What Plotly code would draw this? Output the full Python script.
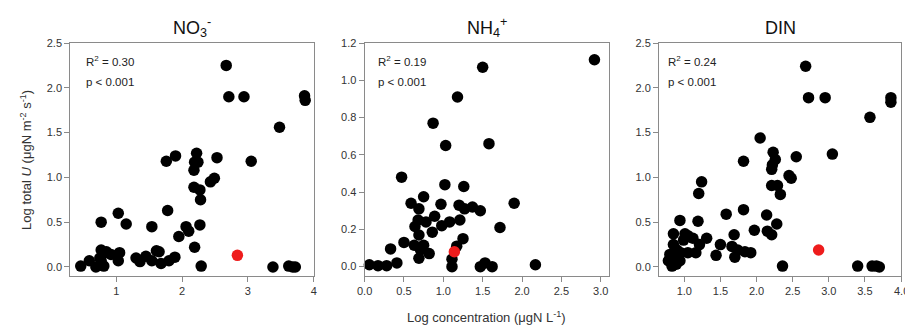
import plotly.graph_objects as go

W, H = 905, 326

# ---------------- data ----------------
no3_x = [0.46, 0.59, 0.69, 0.77, 0.77, 0.80, 0.77, 0.81, 0.75, 0.85, 0.92, 1.03, 1.05, 1.03, 1.15,
         1.30, 1.36, 1.45, 1.54, 1.54, 1.61, 1.65, 1.68, 1.78, 1.76, 1.90, 1.80, 1.89, 1.95, 2.06,
         2.10, 2.19, 2.22, 2.19, 2.24, 2.18, 2.18, 2.27, 2.28, 2.27, 2.29, 2.43, 2.49, 2.53, 2.67,
         2.71, 2.94, 3.05, 3.38, 3.48, 3.62, 3.68, 3.72, 3.86, 3.87]
no3_y = [0.01, 0.07, 0.00, 0.50, 0.19, 0.15, 0.07, 0.01, 0.10, 0.17, 0.14, 0.60, 0.16, 0.07, 0.48,
         0.10, 0.06, 0.12, 0.45, 0.07, 0.18, 0.17, 0.04, 0.63, 1.18, 1.24, 0.07, 0.11, 0.34, 0.45,
         0.40, 0.22, 1.27, 1.17, 1.17, 1.08, 0.89, 0.86, 0.75, 0.47, 0.01, 0.95, 0.99, 1.22, 2.25,
         1.90, 1.90, 1.18, 0.00, 1.56, 0.01, 0.00, 0.00, 1.91, 1.86]
no3_red_x = [2.84]
no3_red_y = [0.13]

nh4_x = [0.06, 0.17, 0.28, 0.41, 0.33, 0.47, 0.50, 0.59, 0.69, 0.75, 0.68, 0.64, 0.63, 0.69, 0.69,
         0.71, 0.75, 0.78, 0.82, 0.86, 0.89, 0.97, 0.87, 0.98, 1.03, 1.02, 1.08, 1.11, 1.11, 1.17,
         1.18, 1.21, 1.20, 1.25, 1.26, 1.27, 1.37, 1.47, 1.50, 1.47, 1.53, 1.58, 1.62, 1.72, 1.90,
         2.17, 2.92]
nh4_y = [0.01, 0.005, 0.005, 0.02, 0.095, 0.48, 0.13, 0.34, 0.31, 0.375, 0.25, 0.215, 0.115, 0.17, 0.045,
         0.09, 0.115, 0.24, 0.07, 0.185, 0.27, 0.335, 0.77, 0.22, 0.65, 0.44, 0.24, 0.00, 0.04, 0.11,
         0.91, 0.25, 0.33, 0.15, 0.43, 0.31, 0.32, 0.30, 1.07, 0.00, 0.02, 0.66, 0.00, 0.21, 0.34,
         0.01, 1.11]
nh4_red_x = [1.14]
nh4_red_y = [0.08]

din_x = [2.68, 2.72, 2.95, 3.86, 3.86, 3.57, 2.05, 3.05, 2.55, 2.23, 2.26, 2.22, 2.21, 1.82, 2.45,
         2.48, 2.21, 2.29, 2.33, 1.24, 1.20, 0.94, 1.19, 0.85, 0.85, 0.90, 1.01, 1.05, 0.99, 1.12,
         1.31, 1.21, 1.16, 1.05, 0.95, 0.80, 0.78, 0.83, 0.89, 0.94, 0.87, 1.44, 1.50, 1.58, 1.69,
         1.66, 1.70, 1.74, 1.82, 1.84, 1.92, 1.97, 2.14, 2.15, 2.21, 2.28, 2.36, 3.40, 3.60, 3.66,
         3.70]
din_y = [2.24, 1.89, 1.89, 1.89, 1.84, 1.67, 1.44, 1.26, 1.23, 1.28, 1.20, 1.14, 1.09, 1.18, 1.02,
         0.99, 0.91, 0.91, 0.81, 0.95, 0.82, 0.52, 0.51, 0.37, 0.25, 0.19, 0.37, 0.35, 0.30, 0.32,
         0.32, 0.25, 0.16, 0.16, 0.16, 0.14, 0.07, 0.01, 0.03, 0.07, 0.09, 0.13, 0.25, 0.59, 0.36,
         0.23, 0.11, 0.19, 0.64, 0.17, 0.16, 0.41, 0.58, 0.40, 0.36, 0.48, 0.01, 0.01, 0.01, 0.01,
         0.00]
din_red_x = [2.86]
din_red_y = [0.19]

titles = ["NO<sub>3</sub><sup>-</sup>", "NH<sub>4</sub><sup>+</sup>", "DIN"]
stats = [("0.30", "< 0.001"), ("0.19", "< 0.001"), ("0.24", "< 0.001")]
x_ranges = [[0.3, 4.0], [0.0, 3.1], [0.65, 4.0]]
y_ranges = [[-0.1, 2.5], [-0.05, 1.2], [-0.1, 2.5]]
x_ticks = [[1, 2, 3, 4], [0.0, 0.5, 1.0, 1.5, 2.0, 2.5, 3.0], [1.0, 1.5, 2.0, 2.5, 3.0, 3.5, 4.0]]
x_ticktext = [["1", "2", "3", "4"],
              ["0.0", "0.5", "1.0", "1.5", "2.0", "2.5", "3.0"],
              ["1.0", "1.5", "2.0", "2.5", "3.0", "3.5", "4.0"]]
y_ticks = [[0.0, 0.5, 1.0, 1.5, 2.0, 2.5], [0.0, 0.2, 0.4, 0.6, 0.8, 1.0, 1.2], [0.0, 0.5, 1.0, 1.5, 2.0, 2.5]]
y_ticktext = [["0.0", "0.5", "1.0", "1.5", "2.0", "2.5"],
              ["0.0", "0.2", "0.4", "0.6", "0.8", "1.0", "1.2"],
              ["0.0", "0.5", "1.0", "1.5", "2.0", "2.5"]]
x_title = "Log concentration (μgN L<sup>-1</sup>)"
y_title = "Log total <i>U</i> (μgN m<sup>-2</sup> s<sup>-1</sup>)"

black_sets = [(no3_x, no3_y), (nh4_x, nh4_y), (din_x, din_y)]
red_sets = [(no3_red_x, no3_red_y), (nh4_red_x, nh4_red_y), (din_red_x, din_red_y)]

# ---------------- layout (pixel geometry) ----------------
panels_px = [(63, 309.5), (361, 608), (659, 904)]
top_px, bot_px = 37.7, 275

def px(x):
    return x / W

def py(y):
    return 1 - y / H

FONT = "Liberation Sans, Arial, sans-serif"
AXC = "#8a8a8a"
TXC = "#333333"

fig = go.Figure()
layout = dict(
    width=W, height=H,
    margin=dict(l=0, r=0, t=0, b=0),
    paper_bgcolor="white", plot_bgcolor="white",
    showlegend=False,
    font=dict(family=FONT, color=TXC, size=11),
)
annotations = []
for i in range(3):
    xa = "xaxis" if i == 0 else f"xaxis{i+1}"
    ya = "yaxis" if i == 0 else f"yaxis{i+1}"
    xref = "x" if i == 0 else f"x{i+1}"
    yref = "y" if i == 0 else f"y{i+1}"
    bx, by = black_sets[i]
    rx, ry = red_sets[i]
    fig.add_trace(go.Scatter(x=bx, y=by, mode="markers", xaxis=xref, yaxis=yref,
                             marker=dict(color="black", size=11.5, line=dict(width=0)),
                             cliponaxis=False))
    fig.add_trace(go.Scatter(x=rx, y=ry, mode="markers", xaxis=xref, yaxis=yref,
                             marker=dict(color="#ee1c1c", size=11.5, line=dict(width=0)),
                             cliponaxis=False))
    l, r = panels_px[i]
    layout[xa] = dict(domain=[px(l), px(r)], range=x_ranges[i], anchor=yref,
                      tickmode="array", tickvals=x_ticks[i], ticktext=x_ticktext[i],
                      ticks="outside", ticklen=5, tickcolor=AXC, tickwidth=1,
                      showline=True, linecolor=AXC, linewidth=1, mirror=True,
                      showgrid=False, zeroline=False,
                      tickfont=dict(family=FONT, size=11, color=TXC))
    layout[ya] = dict(domain=[py(bot_px), py(top_px)], range=y_ranges[i], anchor=xref,
                      tickmode="array", tickvals=y_ticks[i], ticktext=y_ticktext[i],
                      ticks="outside", ticklen=5, tickcolor=AXC, tickwidth=1,
                      showline=True, linecolor=AXC, linewidth=1, mirror=True,
                      showgrid=False, zeroline=False,
                      tickfont=dict(family=FONT, size=11, color=TXC))
    # subplot title
    annotations.append(dict(text=titles[i], x=px((l + r) / 2), y=py(22), xref="paper", yref="paper",
                            xanchor="center", yanchor="middle", showarrow=False,
                            font=dict(family=FONT, size=18, color="#111111")))
    # stats
    r2, p = stats[i]
    sx = [76.5, 372.5, 666][i]
    annotations.append(dict(text=f"R<sup>2</sup> = {r2}", x=px(sx), y=py(56), xref="paper", yref="paper",
                            xanchor="left", yanchor="middle", showarrow=False,
                            font=dict(family=FONT, size=11.5, color="#222222")))
    annotations.append(dict(text=f"p {p}", x=px(sx), y=py(77), xref="paper", yref="paper",
                            xanchor="left", yanchor="middle", showarrow=False,
                            font=dict(family=FONT, size=11.5, color="#222222")))

# last tick label of the DIN panel sits on the page edge; plotly drops it, so draw it (cut off) here
annotations.append(dict(text=x_ticktext[2][-1], x=x_ticks[2][-1], y=0, xref="x3", yref="paper",
                        yshift=py(291) * H, xanchor="center", yanchor="middle", showarrow=False,
                        font=dict(family=FONT, size=11, color=TXC)))

annotations.append(dict(text=x_title, x=px(484.5), y=py(317), xref="paper", yref="paper",
                        xanchor="center", yanchor="middle", showarrow=False,
                        font=dict(family=FONT, size=13, color=TXC)))
annotations.append(dict(text=y_title, x=px(18), y=py(157), xref="paper", yref="paper",
                        xanchor="center", yanchor="middle", showarrow=False, textangle=-90,
                        font=dict(family=FONT, size=13, color=TXC)))
layout["annotations"] = annotations
fig.update_layout(**layout)
fig.write_html("out.html")
